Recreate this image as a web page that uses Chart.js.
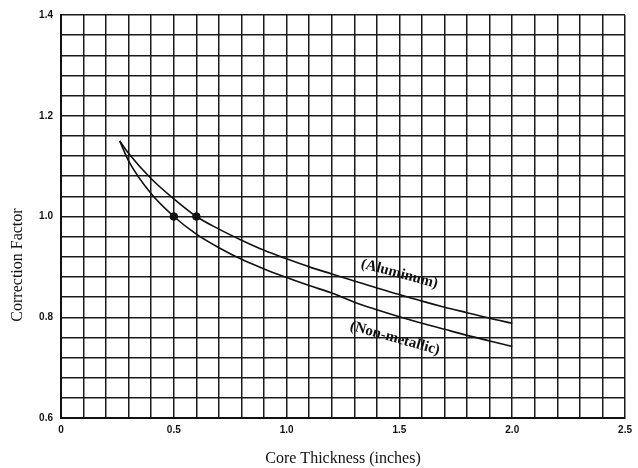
<!DOCTYPE html>
<html>
<head>
<meta charset="utf-8">
<script src="https://cdn.jsdelivr.net/npm/chart.js@4.4.0/dist/chart.umd.min.js"></script>
<style>
  html, body { margin: 0; padding: 0; background: #fff; }
  #wrap { width: 638px; height: 468px; }
</style>
</head>
<body>
<div id="wrap"><canvas id="factorChart"></canvas></div>
<script>
// core thickness (inches)
const xValues = [0.26, 0.3, 0.4, 0.5, 0.6, 0.7, 0.8, 0.9, 1.0, 1.1, 1.2, 1.3, 1.4, 1.5, 1.6, 1.7, 1.8, 1.9, 2.0];
const aluminumValues = [1.15, 1.125, 1.075, 1.035, 1.0, 0.975, 0.953, 0.933, 0.916, 0.9, 0.886, 0.872, 0.858, 0.845, 0.832, 0.82, 0.809, 0.798, 0.788];
const nonMetallicValues = [1.15, 1.11, 1.045, 1.0, 0.965, 0.938, 0.915, 0.896, 0.879, 0.863, 0.848, 0.83, 0.815, 0.801, 0.788, 0.776, 0.764, 0.753, 0.742];
// marked points
const dotX = [0.5, 0.6];
const dotY = [1.0, 1.0];
const xTickLabels = ["0", "0.5", "1.0", "1.5", "2.0", "2.5"];
const yTickLabels = ["0.6", "0.8", "1.0", "1.2", "1.4"];

function toPoints(xs, ys) {
    return xs.map((x, i) => ({ x: x, y: ys[i] }));
}

const curveLabels = {
    id: "curveLabels",
    afterDatasetsDraw(chart) {
        const ctx = chart.ctx;
        const xs = chart.scales.x, ys = chart.scales.y;
        const items = [
            { text: "(Aluminum)", x: 1.5, y: 0.886, angle: 15 },
            { text: "(Non-metallic)", x: 1.48, y: 0.758, angle: 15.5 }
        ];
        ctx.save();
        ctx.fillStyle = "#111";
        ctx.font = "bold 15px 'Liberation Serif'";
        ctx.textAlign = "center";
        ctx.textBaseline = "middle";
        items.forEach(it => {
            ctx.save();
            ctx.translate(xs.getPixelForValue(it.x), ys.getPixelForValue(it.y));
            ctx.rotate(it.angle * Math.PI / 180);
            ctx.fillText(it.text, 0, 0);
            ctx.restore();
        });
        // y axis title
        ctx.save();
        ctx.font = "16px 'Liberation Serif'";
        ctx.translate(18, 265);
        ctx.rotate(-Math.PI / 2);
        ctx.fillText("Correction Factor", 0, 0);
        ctx.restore();
        // x axis title
        ctx.font = "16px 'Liberation Serif'";
        ctx.fillText("Core Thickness (inches)", (xs.left + xs.right) / 2, 459);
        ctx.restore();
    }
};

const factorChart = new Chart("factorChart", {
    type: "line",
    data: {
        datasets: [{
            label: "Aluminum",
            data: toPoints(xValues, aluminumValues),
            borderColor: "#111",
            borderWidth: 1.6,
            pointRadius: 0,
            cubicInterpolationMode: "monotone",
            fill: false
        }, {
            label: "Non-metallic",
            data: toPoints(xValues, nonMetallicValues),
            borderColor: "#111",
            borderWidth: 1.6,
            pointRadius: 0,
            cubicInterpolationMode: "monotone",
            fill: false
        }, {
            type: "scatter",
            label: "Points",
            data: toPoints(dotX, dotY),
            backgroundColor: "#111",
            borderColor: "#111",
            pointRadius: 3.8
        }]
    },
    options: {
        responsive: true,
        maintainAspectRatio: false,
        animation: false,
        layout: { padding: { top: 15, right: 7, left: 0, bottom: 0 } },
        plugins: {
            legend: { display: false },
            tooltip: { enabled: false }
        },
        scales: {
            x: {
                type: "linear",
                min: 0,
                max: 2.5,
                afterFit: function(scale) { scale.height = 50; },
                border: { color: "#111", width: 2 },
                grid: { color: "#1a1a1a", lineWidth: 1.5, drawTicks: false },
                ticks: {
                    stepSize: 0.1,
                    autoSkip: false,
                    maxRotation: 0,
                    padding: 6,
                    color: "#111",
                    font: { family: "'Liberation Sans'", size: 10, weight: "bold" },
                    callback: function(v) {
                        const k = Math.round(v * 2);
                        return Math.abs(v * 2 - k) < 1e-6 ? xTickLabels[k] : "";
                    }
                }
            },
            y: {
                min: 0.6,
                max: 1.4,
                afterFit: function(scale) { scale.width = 61; },
                border: { color: "#111", width: 2 },
                grid: { color: "#1a1a1a", lineWidth: 1.5, drawTicks: false },
                ticks: {
                    stepSize: 0.04,
                    autoSkip: false,
                    padding: 8,
                    color: "#111",
                    font: { family: "'Liberation Sans'", size: 10, weight: "bold" },
                    callback: function(v) {
                        const k = Math.round((v - 0.6) * 5);
                        return Math.abs((v - 0.6) * 5 - k) < 1e-6 ? yTickLabels[k] : "";
                    }
                }
            }
        }
    },
    plugins: [curveLabels]
});
</script>
</body>
</html>
